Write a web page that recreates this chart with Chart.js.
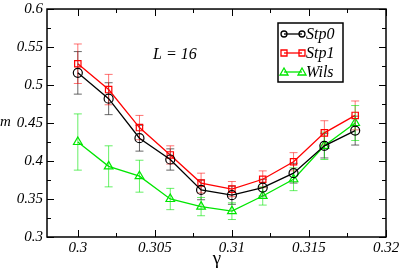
<!DOCTYPE html>
<html>
<head>
<meta charset="utf-8">
<script src="https://cdn.jsdelivr.net/npm/chart.js@4.4.1/dist/chart.umd.min.js"></script>
<style>
  html, body { margin: 0; padding: 0; background: #fff; }
  #wrap { width: 399px; height: 270px; }
</style>
</head>
<body>
<div id="wrap"><canvas id="myChart" width="399" height="270"></canvas></div>
<script>
// gamma values
const gammas = [0.300, 0.302, 0.304, 0.306, 0.308, 0.310, 0.312, 0.314, 0.316, 0.318];

// m values
const stp0    = [0.516, 0.482, 0.430, 0.402, 0.362, 0.355, 0.365, 0.384, 0.420, 0.440];
const stp0Err = [0.028, 0.021, 0.017, 0.014, 0.013, 0.012, 0.011, 0.013, 0.016, 0.019];
const stp1    = [0.528, 0.494, 0.444, 0.408, 0.371, 0.363, 0.376, 0.399, 0.437, 0.460];
const stp1Err = [0.026, 0.020, 0.016, 0.012, 0.013, 0.010, 0.011, 0.012, 0.016, 0.019];
const wils    = [0.425, 0.393, 0.380, 0.350, 0.340, 0.334, 0.354, 0.376, 0.420, 0.450];
const wilsErr = [0.037, 0.027, 0.021, 0.014, 0.012, 0.011, 0.012, 0.015, 0.018, 0.023];

const xTicks = [0.300, 0.305, 0.310, 0.315, 0.320];
const xTickLabels = ['0.3', '0.305', '0.31', '0.315', '0.32'];
const yTicks = [0.30, 0.35, 0.40, 0.45, 0.50, 0.55, 0.60];
const yTickLabels = ['0.3', '0.35', '0.4', '0.45', '0.5', '0.55', '0.6'];

const serif = '"Liberation Serif", "DejaVu Serif", serif';

function pts(ys) {
    return gammas.map((g, i) => ({ x: g, y: ys[i] }));
}

// error bars, drawn under the markers
const errorBars = {
    id: 'errorBars',
    beforeDatasetsDraw(chart) {
        const ctx = chart.ctx;
        const xs = chart.scales.x, ys = chart.scales.y;
        chart.data.datasets.forEach(ds => {
            ctx.save();
            ctx.strokeStyle = ds.errColor;
            ctx.lineWidth = 1;
            ds.data.forEach((p, i) => {
                const e = ds.err[i];
                const px = xs.getPixelForValue(p.x);
                const top = ys.getPixelForValue(p.y + e);
                const bot = ys.getPixelForValue(p.y - e);
                ctx.beginPath();
                ctx.moveTo(px, top); ctx.lineTo(px, bot);
                ctx.moveTo(px - 4, top); ctx.lineTo(px + 4, top);
                ctx.moveTo(px - 4, bot); ctx.lineTo(px + 4, bot);
                ctx.stroke();
            });
            ctx.restore();
        });
    }
};

// frame, inward ticks, legend box and labels
const decorations = {
    id: 'decorations',
    afterDraw(chart) {
        const ctx = chart.ctx;
        const a = chart.chartArea;
        const xs = chart.scales.x, ys = chart.scales.y;
        ctx.save();
        ctx.strokeStyle = '#000';
        ctx.lineWidth = 1.5;
        ctx.strokeRect(a.left, a.top, a.right - a.left, a.bottom - a.top);

        ctx.lineWidth = 1;
        ctx.beginPath();
        for (let v = 0.3; v < 0.3201; v += 0.0025) {
            const px = Math.round(xs.getPixelForValue(v)) + 0.5;
            const major = Math.abs(v * 200 - Math.round(v * 200)) < 1e-6;
            const len = major ? 7 : 4;
            ctx.moveTo(px, a.bottom); ctx.lineTo(px, a.bottom - len);
            ctx.moveTo(px, a.top); ctx.lineTo(px, a.top + len);
        }
        for (let v = 0.3; v < 0.6001; v += 0.025) {
            const py = Math.round(ys.getPixelForValue(v)) + 0.5;
            const major = Math.abs(v * 20 - Math.round(v * 20)) < 1e-6;
            const len = major ? 7 : 4;
            ctx.moveTo(a.left, py); ctx.lineTo(a.left + len, py);
            ctx.moveTo(a.right, py); ctx.lineTo(a.right - len, py);
        }
        ctx.stroke();

        // legend
        ctx.lineWidth = 1.5;
        ctx.strokeRect(278, 23, 65, 59);
        ctx.font = 'italic 16px ' + serif;
        ctx.textBaseline = 'middle';
        ctx.textAlign = 'left';
        chart.data.datasets.forEach((ds, i) => {
            const y = 34 + i * 19;
            ctx.strokeStyle = ds.borderColor;
            ctx.lineWidth = 1.3;
            ctx.beginPath();
            ctx.moveTo(284, y); ctx.lineTo(302, y);
            ctx.stroke();
            [284, 302].forEach(x => {
                ctx.beginPath();
                if (ds.pointStyle === 'circle') {
                    ctx.arc(x, y, 3, 0, Math.PI * 2);
                } else if (ds.pointStyle === 'rect') {
                    ctx.rect(x - 3, y - 3, 6, 6);
                } else {
                    ctx.moveTo(x, y - 4); ctx.lineTo(x + 4, y + 3); ctx.lineTo(x - 4, y + 3); ctx.closePath();
                }
                ctx.stroke();
            });
            ctx.fillStyle = '#000';
            ctx.fillText(ds.label, 306, y + 1);
        });

        ctx.fillStyle = '#000';
        ctx.font = 'italic 16px ' + serif;
        ctx.fillText('L = 16', 153, 55);
        ctx.font = 'italic 15px ' + serif;
        ctx.fillText('m', 0, 122);
        ctx.textAlign = 'center';
        ctx.font = '19px ' + serif;
        ctx.fillText('\u03b3', 217, 259);
        ctx.restore();
    }
};

const ctx = document.getElementById('myChart').getContext('2d');
const myChart = new Chart(ctx, {
    type: 'scatter',
    data: {
        datasets: [{
            label: 'Stp0',
            data: pts(stp0),
            err: stp0Err,
            errColor: 'rgba(40, 40, 40, 0.7)',
            borderColor: '#000',
            pointStyle: 'circle',
            pointRadius: 4.5
        }, {
            label: 'Stp1',
            data: pts(stp1),
            err: stp1Err,
            errColor: 'rgba(255, 0, 0, 0.55)',
            borderColor: '#ff0000',
            pointStyle: 'rect',
            pointRadius: 4.5
        }, {
            label: 'Wils',
            data: pts(wils),
            err: wilsErr,
            errColor: 'rgba(0, 230, 0, 0.6)',
            borderColor: '#00e600',
            pointStyle: 'triangle',
            pointRadius: 5
        }]
    },
    options: {
        responsive: false,
        animation: false,
        devicePixelRatio: 1,
        showLine: true,
        elements: {
            line: { borderWidth: 1.3, tension: 0 },
            point: { borderWidth: 1.2, backgroundColor: 'rgba(0,0,0,0)' }
        },
        layout: { padding: { top: 0, right: 13, left: 0, bottom: 0 } },
        plugins: {
            legend: { display: false },
            tooltip: { enabled: false }
        },
        scales: {
            x: {
                min: 0.298,
                max: 0.32,
                afterBuildTicks: s => { s.ticks = xTicks.map(v => ({ value: v })); },
                afterFit: s => { s.height = 33; s.paddingRight = 0; s.paddingLeft = 0; },
                grid: { display: false, drawTicks: false },
                border: { display: false },
                ticks: {
                    color: '#000',
                    padding: 4,
                    maxRotation: 0,
                    font: { family: serif, size: 15, style: 'italic', lineHeight: 1 },
                    callback: (v, i) => xTickLabels[i]
                }
            },
            y: {
                min: 0.3,
                max: 0.6,
                afterBuildTicks: s => { s.ticks = yTicks.map(v => ({ value: v })); },
                afterFit: s => { s.width = 47; },
                grid: { display: false, drawTicks: false },
                border: { display: false },
                ticks: {
                    color: '#000',
                    padding: 4,
                    font: { family: serif, size: 15, style: 'italic', lineHeight: 0.67 },
                    callback: (v, i) => yTickLabels[i]
                }
            }
        }
    },
    plugins: [errorBars, decorations]
});
</script>
</body>
</html>
